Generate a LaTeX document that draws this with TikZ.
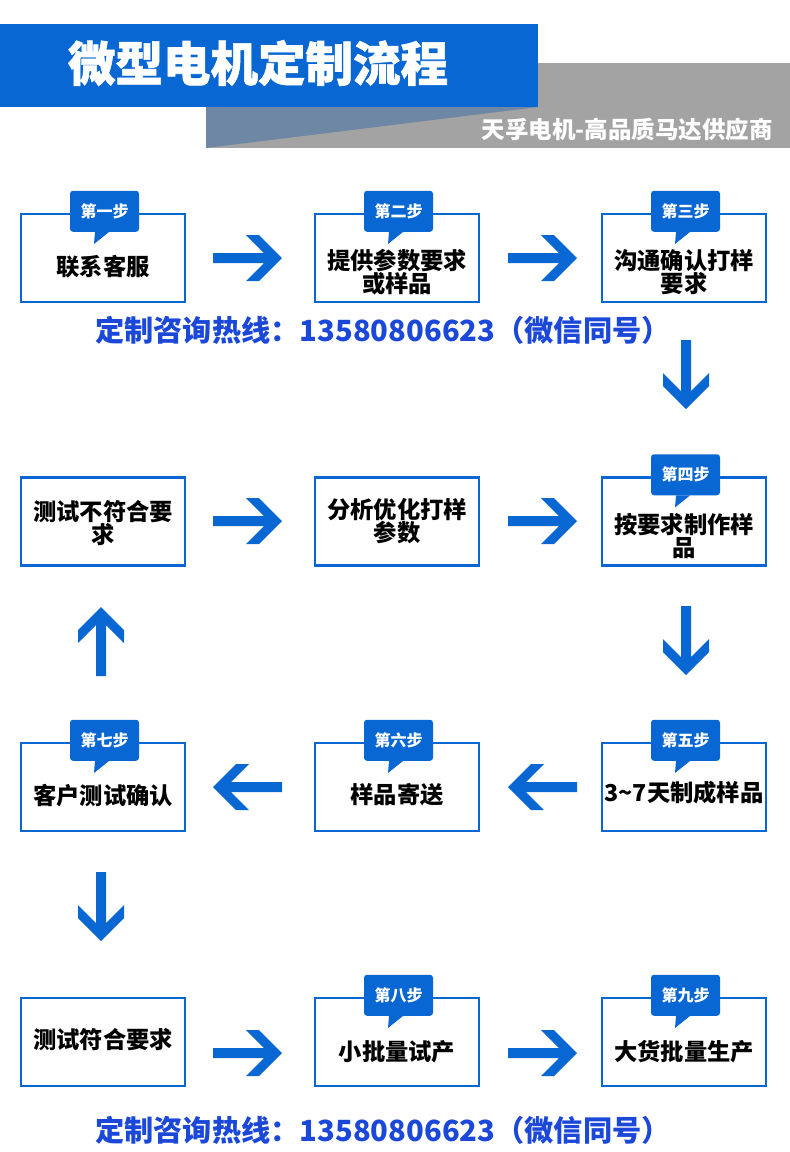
\documentclass[tikz,border=0pt]{standalone}
\usepackage{fontspec}
\setmainfont{Noto Sans CJK SC}
\newfontfamily\heavyfont{Noto Sans CJK SC}[BoldFeatures={FakeBold=1.2}]
\definecolor{mblue}{HTML}{0867D3}
\definecolor{hblue}{HTML}{1B48D8}
\definecolor{hgray}{HTML}{A3A3A3}
\definecolor{tgray}{HTML}{6E87A5}
\newcommand\stepbadge[2]{%
  \node[badge] (#1b) at ([xshift=1.5pt,yshift=1.5pt]#1.north) {#2};
  \fill[mblue] ([xshift=-9.5pt]#1b.south) -- ([xshift=4.5pt]#1b.south) -- ([xshift=-10.5pt,yshift=-12pt]#1b.south) -- cycle;}
\begin{document}
\begin{tikzpicture}[x=1pt,y=-1pt,
  box/.style={draw=mblue,line width=2.5pt,minimum width=164pt,minimum height=88pt,inner sep=0pt},
  txt/.style={font=\fontsize{23.3}{23}\selectfont\bfseries,align=center,inner sep=0pt,text=black},
  badge/.style={fill=mblue,rounded corners=3pt,minimum width=69pt,minimum height=41pt,inner sep=0pt,text=white,font=\fontsize{16}{16}\selectfont\bfseries},
  hot/.style={font=\fontsize{29.2}{29}\selectfont\bfseries,text=hblue,inner sep=0pt},
  barrow/.pic={\fill[mblue] (0,0) -- (-23,-23) -- (-36,-23) -- (-18,-5) -- (-69,-5) -- (-69,5) -- (-18,5) -- (-36,23) -- (-23,23) -- cycle;}
]
\useasboundingbox (0,0) rectangle (790,1152);
% header
\fill[hgray] (206,63) rectangle (790,148);
\fill[tgray] (206,107) -- (538,107) -- (206,148) -- cycle;
\fill[mblue] (0,24) rectangle (538,107);
\node[text=white,font=\fontsize{47.5}{47}\selectfont\heavyfont\bfseries,inner sep=0pt] (title) at (258,63) {微型电机定制流程};
\node[text=white,font=\fontsize{23.5}{23}\selectfont\bfseries,inner sep=0pt,anchor=east] (sub) at (773,130) {天孚电机-高品质马达供应商};
% boxes
\node[box] (s1) at (103,258) {};
\node[box] (s2) at (397,258) {};
\node[box] (s3) at (684,258) {};
\node[box] (r1) at (103,521.5) {};
\node[box] (r2) at (397,521.5) {};
\node[box] (s4) at (684,521.5) {};
\node[box] (s7) at (103,787) {};
\node[box] (s6) at (397,787) {};
\node[box] (s5) at (684,787) {};
\node[box] (r3) at (103,1042) {};
\node[box] (s8) at (397,1042) {};
\node[box] (s9) at (684,1042) {};
% texts
\node[txt] at ([yshift=-9pt]s1.center) {联系客服};
\node[txt] at ([yshift=-14pt]s2.center) {提供参数要求\\或样品};
\node[txt] at ([yshift=-14pt]s3.center) {沟通确认打样\\要求};
\node[txt] at ([yshift=-2pt]r1.center) {测试不符合要\\求};
\node[txt] at (r2.center) {分析优化打样\\参数};
\node[txt] at ([yshift=-15pt]s4.center) {按要求制作样\\品};
\node[txt] at ([yshift=-9pt]s7.center) {客户测试确认};
\node[txt] at ([yshift=-8pt]s6.center) {样品寄送};
\node[txt] at ([yshift=-6pt]s5.center) {3\char`~7天制成样品};
\node[txt] at ([yshift=2pt]r3.center) {测试符合要求};
\node[txt] at ([yshift=-10pt]s8.center) {小批量试产};
\node[txt] at ([yshift=-10pt]s9.center) {大货批量生产};
% badges
\stepbadge{s1}{第一步}
\stepbadge{s2}{第二步}
\stepbadge{s3}{第三步}
\stepbadge{s4}{第四步}
\stepbadge{s5}{第五步}
\stepbadge{s6}{第六步}
\stepbadge{s7}{第七步}
\stepbadge{s8}{第八步}
\stepbadge{s9}{第九步}
% arrows
\pic at (282,258) {barrow};
\pic at (577,258) {barrow};
\pic[rotate=-90] at (686,409) {barrow};
\pic at (282,521) {barrow};
\pic at (577,521) {barrow};
\pic[rotate=-90] at (686,675) {barrow};
\pic[rotate=90] at (101,607) {barrow};
\pic[rotate=180] at (213,787) {barrow};
\pic[rotate=180] at (508,787) {barrow};
\pic[rotate=-90] at (101,941) {barrow};
\pic at (282,1053) {barrow};
\pic at (577,1053) {barrow};
% hotlines
\node[hot] (hot1) at (383,330) {定制咨询热线：13580806623（微信同号）};
\node[hot] (hot2) at (383,1130) {定制咨询热线：13580806623（微信同号）};
\end{tikzpicture}
\end{document}
